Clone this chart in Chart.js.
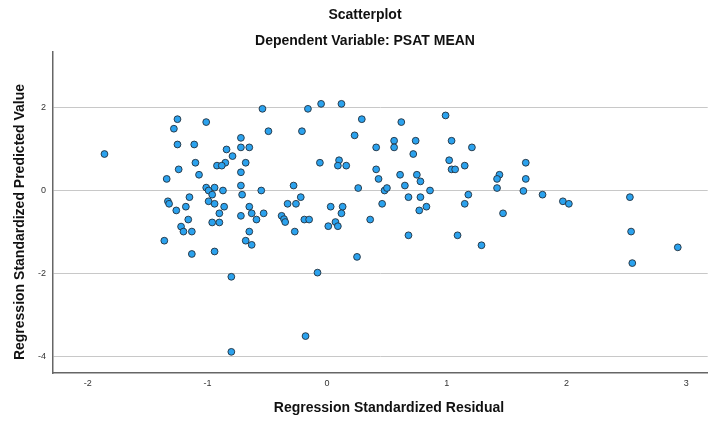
<!DOCTYPE html>
<html lang="en">
<head>
<meta charset="UTF-8">
<title>Scatterplot</title>
<script src="https://cdn.jsdelivr.net/npm/chart.js@4.4.1/dist/chart.umd.min.js"></script>
<style>
  html, body { margin: 0; padding: 0; background: #fff; }
  #wrap { width: 712px; height: 422px; }
</style>
</head>
<body>
<div id="wrap"><canvas id="chart" width="712" height="422"></canvas></div>
<script>
const titleText = 'Scatterplot';
const subtitleText = 'Dependent Variable: PSAT MEAN';
const xTitle = 'Regression Standardized Residual';
const yTitle = 'Regression Standardized Predicted Value';

// regression standardized residual (x) for each case
const residual = [
  -0.54, -1.25, -1.01, -1.28, -0.49, -0.72, -1.25, -1.11, -0.72, -0.65,
  -0.84, -1.86, -0.79, -1.10, -0.85, -0.92, -0.88, -0.68, -1.24, -0.72,
  -1.07, -1.34, -1.01, -0.94, -0.99, -0.96, -0.87, -0.72, -0.71, -0.55,
  -1.15, -1.33, -1.32, -1.18, -0.99, -0.94, -0.86, -1.26, -0.65, -0.90,
  -0.63, -0.53, -0.72, -1.16, -0.59, -1.22, -1.20, -1.13, -0.96, -0.90,
  -0.65, -1.36, -0.68, -0.63, -1.13, -0.94, -0.80, -0.80, -0.16, -0.05,
  0.12, -0.21, 0.29, 0.62, 0.99, 0.23, 0.56, 0.74, 1.04, 0.41,
  0.56, 1.21, 0.72, -0.06, 0.10, 0.09, 0.16, 1.02, 1.04, 1.07,
  1.15, 0.41, 0.43, 0.61, 0.75, 0.78, 0.65, -0.28, 0.26, 0.48,
  0.50, 0.86, -0.22, -0.33, -0.26, 0.03, 0.13, 0.12, 0.46, 0.68,
  0.78, 0.83, 0.77, 1.15, 1.18, -0.38, -0.36, -0.35, -0.19, -0.15,
  0.36, -0.27, 0.01, 0.07, 0.09, 0.68, 1.09, 0.25, -0.08, -0.18,
  1.29, 1.66, 1.44, 1.42, 1.66, 1.42, 1.64, 1.80, 1.97, 2.02,
  2.53, 1.47, 2.54, 2.93, 2.55
];

// regression standardized predicted value (y) for each case
const predicted = [
  1.98, 1.73, 1.66, 1.50, 1.44, 1.28, 1.12, 1.12, 1.05, 1.05,
  1.00, 0.89, 0.84, 0.68, 0.68, 0.61, 0.61, 0.68, 0.52, 0.45,
  0.39, 0.29, 0.08, 0.08, 0.01, -0.09, 0.01, 0.13, -0.09, 0.01,
  -0.15, -0.25, -0.31, -0.38, -0.25, -0.31, -0.38, -0.47, -0.38, -0.54,
  -0.54, -0.54, -0.60, -0.69, -0.69, -0.86, -0.98, -0.98, -0.76, -0.76,
  -0.98, -1.20, -1.20, -1.30, -1.52, -1.46, -2.07, -3.88, 1.98, 2.10,
  2.10, 1.44, 1.73, 1.66, 1.82, 1.34, 1.21, 1.21, 1.21, 1.05,
  1.05, 1.05, 0.89, 0.68, 0.74, 0.61, 0.61, 0.74, 0.52, 0.52,
  0.61, 0.52, 0.29, 0.39, 0.39, 0.23, 0.13, 0.13, 0.07, 0.01,
  0.07, 0.01, -0.15, -0.31, -0.31, -0.38, -0.38, -0.54, -0.31, -0.15,
  -0.15, -0.38, -0.47, -0.31, -0.09, -0.60, -0.68, -0.75, -0.69, -0.69,
  -0.69, -0.98, -0.85, -0.75, -0.85, -1.07, -1.07, -1.59, -1.97, -3.50,
  -1.31, 0.68, 0.39, 0.29, 0.29, 0.07, 0.00, -0.09, -0.25, -0.31,
  -0.15, -0.54, -0.98, -1.36, -1.74
];

const xTicks = [-2, -1, 0, 1, 2, 3];
const yTicks = [-4, -2, 0, 2];

const points = residual.map((r, i) => ({ x: r, y: predicted[i] }));

// titles are drawn by hand so they can sit where SPSS puts them
const textPlugin = {
  id: 'spssText',
  afterDraw(chart) {
    const ctx = chart.ctx;
    ctx.save();
    ctx.fillStyle = '#111';
    ctx.textAlign = 'center';
    ctx.textBaseline = 'middle';
    ctx.font = 'bold 14px "Liberation Sans", Arial, sans-serif';
    ctx.fillText(titleText, 365, 15);
    ctx.fillText(subtitleText, 365, 41);
    ctx.fillText(xTitle, 389, 408);
    ctx.translate(20, 222);
    ctx.rotate(-Math.PI / 2);
    ctx.fillText(yTitle, 0, 0);
    ctx.restore();
  }
};

function noSidePadding(s) {
  s.paddingLeft = 0;
  s.paddingRight = 0;
}

const ctx = document.getElementById('chart').getContext('2d');
const chart = new Chart(ctx, {
  type: 'scatter',
  data: {
    datasets: [{
      data: points,
      backgroundColor: '#2ba2ee',
      borderColor: '#22303c',
      borderWidth: 0.9,
      pointRadius: 3.4,
      pointHoverRadius: 3.4
    }]
  },
  options: {
    responsive: false,
    animation: false,
    events: [],
    layout: { padding: { top: 52, left: 0, right: 0, bottom: 0 } },
    plugins: {
      legend: { display: false },
      tooltip: { enabled: false }
    },
    scales: {
      x: {
        type: 'linear',
        min: -2.29,
        max: 3.18,
        afterBuildTicks: s => { s.ticks = xTicks.map(v => ({ value: v })); },
        afterFit: s => { s.height = 49; noSidePadding(s); },
        grid: { display: false, drawTicks: false },
        border: { display: true, color: '#666', width: 1.5 },
        ticks: {
          padding: 5,
          color: '#333',
          font: { family: '"Liberation Sans", Arial, sans-serif', size: 9 },
          maxRotation: 0
        }
      },
      y: {
        type: 'linear',
        min: -4.39,
        max: 3.35,
        afterBuildTicks: s => { s.ticks = yTicks.map(v => ({ value: v })); },
        afterFit: s => { s.width = 53; },
        grid: { color: '#c8c8c8', lineWidth: 1, drawTicks: false },
        border: { display: true, color: '#666', width: 1.5 },
        ticks: {
          padding: 7,
          color: '#333',
          font: { family: '"Liberation Sans", Arial, sans-serif', size: 9 }
        }
      }
    }
  },
  plugins: [textPlugin]
});
</script>
</body>
</html>
